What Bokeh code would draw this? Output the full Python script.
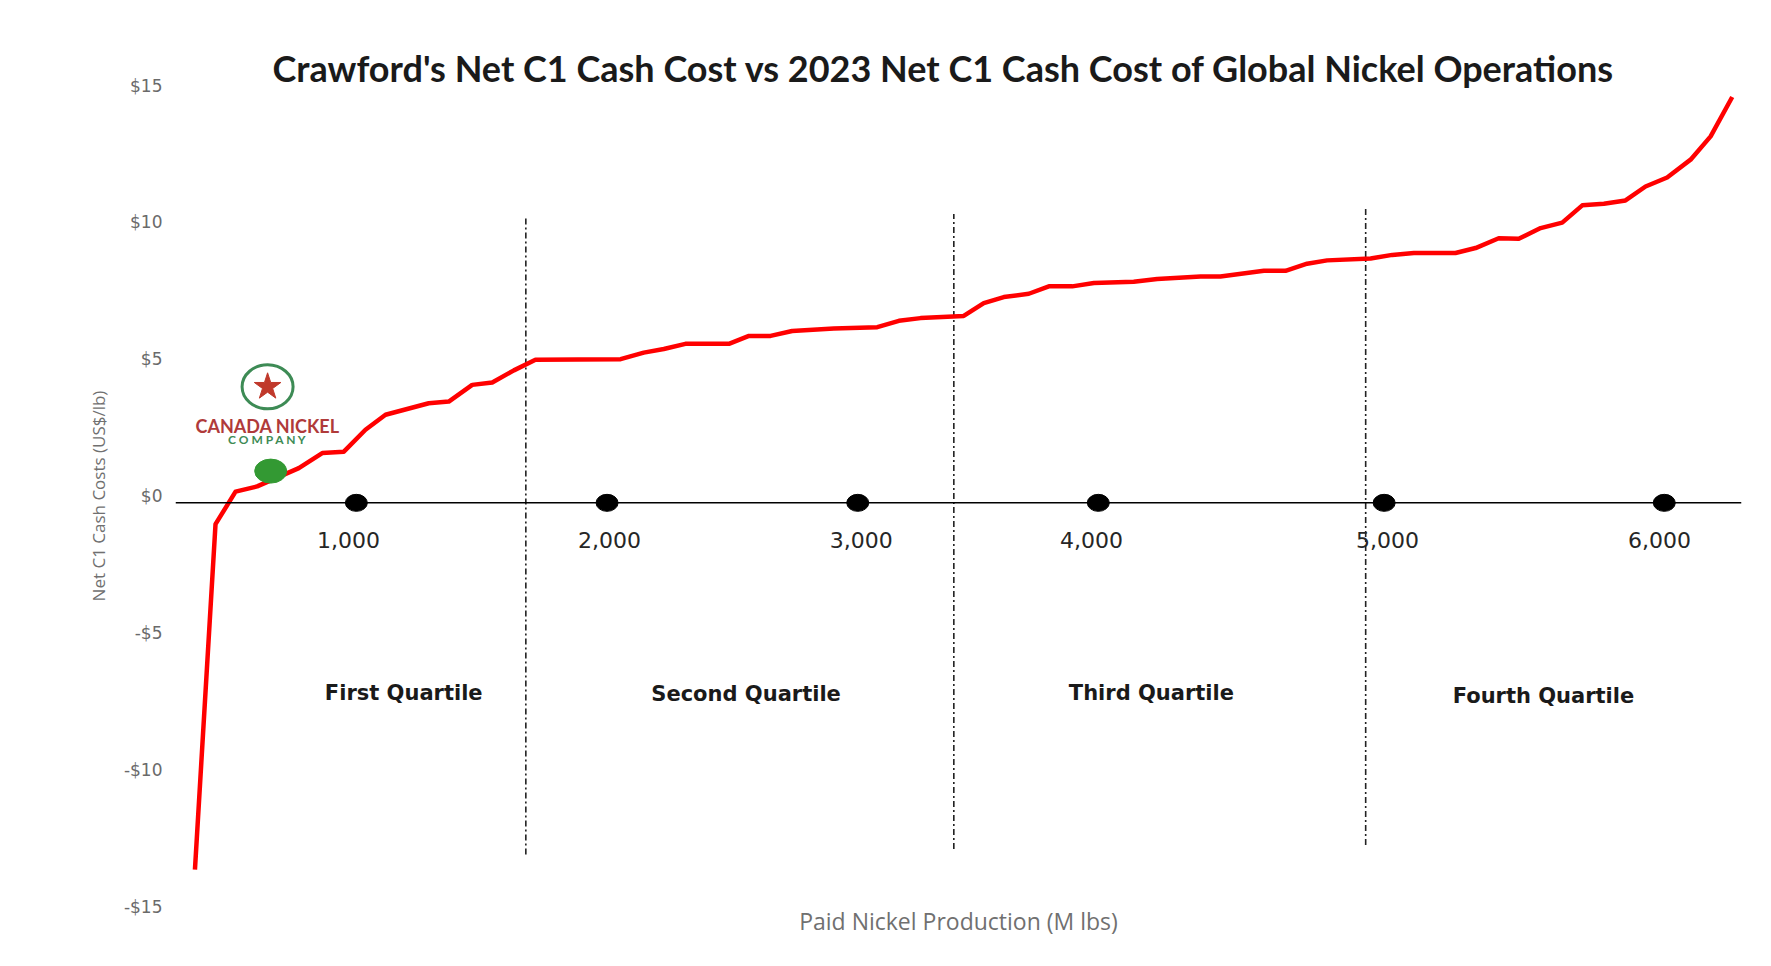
from bokeh.plotting import figure
from bokeh.models import Range1d, FixedTicker, Span, Title, ColumnDataSource
from bokeh.embed import file_html
from bokeh.resources import INLINE
from bokeh.core.properties import value

# ---------------- data ----------------
title_text = "Crawford's Net C1 Cash Cost vs 2023 Net C1 Cash Cost of Global Nickel Operations"
x_label = "Paid Nickel Production (M lbs)"
y_label = "Net C1 Cash Costs (US$/lb)"

# cost curve: cumulative paid nickel production (M lbs) vs net C1 cash cost (US$/lb)
cum_production = [428, 507, 584, 667, 827, 917, 1000, 1083, 1160, 1326,
                  1403, 1493, 1570, 1653, 1736, 2063, 2152, 2229, 2312, 2479,
                  2556, 2639, 2722, 2882, 3049, 3132, 3215, 3381, 3458, 3535,
                  3631, 3708, 3798, 3881, 4034, 4124, 4291, 4367, 4534, 4617,
                  4700, 4777, 4944, 5027, 5110, 5270, 5347, 5436, 5513, 5597,
                  5680, 5757, 5840, 5923, 6000, 6083, 6173, 6250, 6333]
net_c1_cost = [-13.65, -1.03, 0.16, 0.35, 1.02, 1.57, 1.62, 2.42, 2.97, 3.39,
               3.45, 4.06, 4.15, 4.59, 4.98, 5.00, 5.24, 5.37, 5.56, 5.56,
               5.85, 5.85, 6.03, 6.12, 6.17, 6.40, 6.50, 6.58, 7.05, 7.27,
               7.39, 7.66, 7.66, 7.78, 7.83, 7.93, 8.02, 8.02, 8.23, 8.23,
               8.49, 8.61, 8.68, 8.81, 8.88, 8.88, 9.06, 9.42, 9.40, 9.79,
               9.99, 10.62, 10.68, 10.80, 11.31, 11.64, 12.29, 13.14, 14.58]

# Crawford project position
crawford_x = [719]
crawford_y = [0.91]

# production markers on the horizontal reference line and their labels
baseline_y = -0.25
marker_x = [1048, 2011, 2974, 3898, 4996, 6072]
marker_labels = ["1,000", "2,000", "3,000", "4,000", "5,000", "6,000"]
marker_label_x = [1018, 2020, 2987, 3872, 5009, 6054]

# quartile boundaries
quartile_x = [1699, 3343, 4925]
quartile_top = [10.15, 10.3, 10.5]
quartile_bottom = [-13.1, -12.9, -12.75]
quartile_names = ["First Quartile", "Second Quartile", "Third Quartile", "Fourth Quartile"]
quartile_label_x = [1230, 2545, 4102, 5608]
quartile_label_y = [-7.21, -7.25, -7.21, -7.3]

y_tick_values = [-15, -10, -5, 0, 5, 10, 15]
y_tick_labels = ["-$15", "-$10", "-$5", "$0", "$5", "$10", "$15"]

# logo annotation
logo_x = 707
logo_ring_y = 3.99
logo_name_y = 2.55
logo_sub_y = 2.05

# ---------------- figure ----------------
p = figure(width=1763, height=958,
           x_range=Range1d(353.3, 6368.6), y_range=Range1d(-15, 15),
           output_backend="svg", toolbar_location=None,
           min_border_left=175, min_border_right=22,
           min_border_top=85, min_border_bottom=52)
p.grid.visible = False
p.outline_line_color = None
p.background_fill_color = "white"
p.border_fill_color = "white"

p.title = Title(text=title_text, align="left", offset=97,
                text_font="Lato", text_font_size="36px", text_font_style="bold",
                text_color="#1a1a1a", standoff=-8)

# y axis
yax = p.yaxis[0]
yax.ticker = FixedTicker(ticks=y_tick_values)
yax.major_label_overrides = {v: s for v, s in zip(y_tick_values, y_tick_labels)}
yax.axis_line_color = None
yax.major_tick_line_color = None
yax.minor_tick_line_color = None
yax.major_tick_out = 0
yax.major_label_standoff = 13
yax.major_label_text_font = "DejaVu Sans"
yax.major_label_text_font_size = "17px"
yax.major_label_text_color = "#6a6a6a"
yax.axis_label = y_label
yax.axis_label_text_font = "Open Sans"
yax.axis_label_text_font_style = "normal"
yax.axis_label_text_font_size = "17px"
yax.axis_label_text_color = "#707070"
yax.axis_label_standoff = 11

# x axis (label only)
xax = p.xaxis[0]
xax.ticker = FixedTicker(ticks=[])
xax.axis_line_color = None
xax.major_tick_line_color = None
xax.minor_tick_line_color = None
xax.major_tick_out = 0
xax.axis_label = x_label
xax.axis_label_text_font = "Open Sans"
xax.axis_label_text_font_style = "normal"
xax.axis_label_text_font_size = "23px"
xax.axis_label_text_color = "#707070"
xax.axis_label_standoff = -2

# horizontal reference line
p.add_layout(Span(location=baseline_y, dimension="width", line_color="black", line_width=1.5))

# quartile boundaries
qsrc = ColumnDataSource(dict(x=quartile_x, top=quartile_top, bottom=quartile_bottom))
p.segment(x0="x", y0="bottom", x1="x", y1="top", source=qsrc,
          line_color="#222222", line_width=1.6, line_dash="6 3 2 3")

# quartile labels
qlsrc = ColumnDataSource(dict(x=quartile_label_x, y=quartile_label_y, t=quartile_names))
p.text(x="x", y="y", text="t", source=qlsrc, text_font=value("DejaVu Sans"),
       text_font_style="bold", text_font_size="21px", text_color="#1a1a1a",
       text_align="center", text_baseline="middle")

# cost curve
p.line(cum_production, net_c1_cost, line_color="#ff0000", line_width=4.5, line_join="round")

# markers on the reference line
msrc = ColumnDataSource(dict(x=marker_x, y=[baseline_y] * len(marker_x)))
p.ellipse(x="x", y="y", width=22, height=17, width_units="screen", height_units="screen",
          source=msrc, fill_color="black", line_color="black")
lsrc = ColumnDataSource(dict(x=marker_label_x, y=[baseline_y] * len(marker_label_x), t=marker_labels))
p.text(x="x", y="y", text="t", source=lsrc, text_font=value("DejaVu Sans"),
       text_font_size="22px", text_color="#262626", text_align="center",
       text_baseline="middle", y_offset=37)

# Crawford point
p.ellipse(x=crawford_x, y=crawford_y, width=32, height=24, width_units="screen",
          height_units="screen", fill_color="#339933", line_color="#339933")

# logo
p.ellipse(x=[logo_x], y=[logo_ring_y], width=51, height=44, width_units="screen",
          height_units="screen", fill_color="white", line_color="#3d8b55", line_width=3)
p.scatter(x=[logo_x], y=[logo_ring_y], marker="star", size=28,
          fill_color="#c0392b", line_color="#c0392b")
p.text(x=[logo_x], y=[logo_name_y], text=["CANADA NICKEL"], text_font=value("Lato"),
       text_font_style="bold", text_font_size="18px", text_color="#b03a3a",
       text_align="center", text_baseline="middle")
p.text(x=[logo_x], y=[logo_sub_y], text=["C O M P A N Y"], text_font=value("Lato"),
       text_font_style="bold", text_font_size="12px", text_color="#3d8b55",
       text_align="center", text_baseline="middle")

open("out.html", "w").write(file_html(p, INLINE))
